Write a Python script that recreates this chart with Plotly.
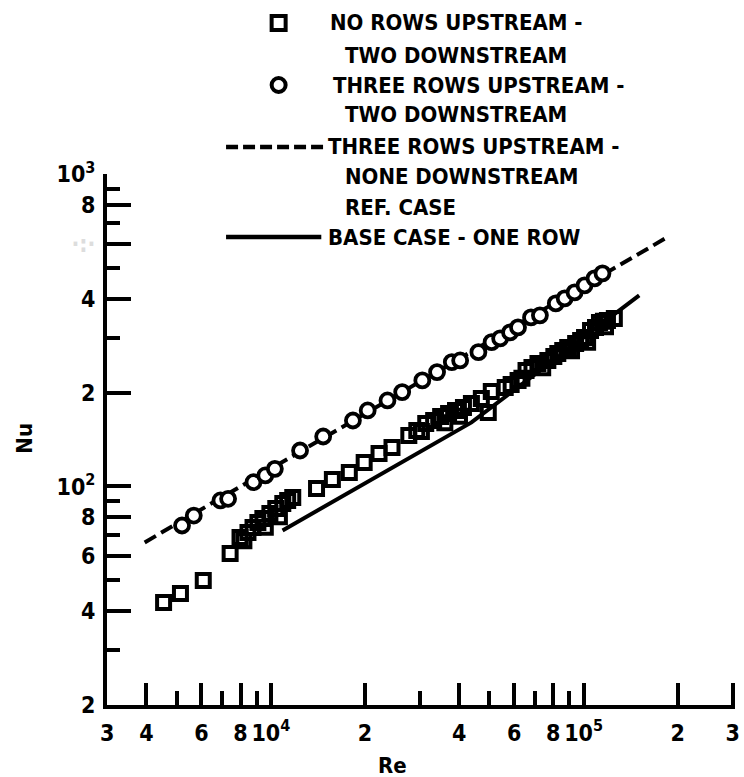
import math
import plotly.graph_objects as go

# ---------------- data ----------------
circ_re = [5200, 5670, 6900, 7300, 8800, 9600, 10300, 12400, 14700, 18300,
           20400, 23600, 26300, 30500, 34000, 37900, 40300, 46100, 50800, 54100,
           58200, 61700, 67900, 72500, 81500, 87000, 93600, 100700, 108400, 114900]
circ_nu = [75.0, 80.7, 90.2, 91.3, 103.2, 108.5, 113.9, 130.4, 144.6, 162.7,
           175.2, 188.6, 200.6, 218.7, 232.5, 250.3, 253.4, 269.4, 290.0, 298.1,
           311.6, 323.3, 348.1, 353.3, 385.9, 400.5, 418.6, 440.8, 464.2, 481.6]

sq_re = [4540, 5140, 6080, 7410, 7970, 8450, 8770, 9090, 9430, 9930,
         10370, 10920, 11320, 11750, 14000, 15730, 17820, 19880, 22180, 24400,
         27620, 29290, 31280, 33160, 34910, 37010, 38950, 41290, 43780, 47100,
         49570, 50680, 56150, 58660, 61730, 65450, 68380, 71450, 76870, 80330,
         82710, 85770, 88960, 94320, 97840, 100700, 105250, 109170, 112400, 115740,
         119200, 125400,
         8200, 9600, 10650, 30300, 36000, 40100, 63500, 74000, 91500, 103000, 117500]
sq_nu = [42.5, 45.4, 50.0, 61.0, 68.6, 71.2, 73.9, 76.7, 79.0, 81.9,
         85.0, 88.2, 90.2, 92.2, 98.5, 105.3, 110.9, 119.4, 127.6, 133.4,
         145.7, 151.2, 159.2, 162.7, 167.6, 171.4, 175.2, 179.1, 184.5, 191.5,
         172.6, 201.6, 207.6, 212.3, 218.7, 235.4, 240.6, 247.9, 253.4, 261.0,
         266.9, 272.9, 279.0, 287.2, 293.7, 300.3, 316.2, 323.3, 335.5, 338.0,
         340.4, 345.5,
         67.0, 74.0, 80.0, 150.0, 160.0, 168.0, 222.0, 240.0, 272.0, 290.0, 325.0]

ref_re = [3950, 184800]          # three rows upstream - none downstream (dashed)
ref_nu = [66.2, 628.0]
base_re = [10900, 43800, 150600]  # base case - one row (solid)
base_nu = [72.3, 160.4, 409.6]

x_major_vals = [3000, 4000, 6000, 8000, 10000, 20000, 40000, 60000, 80000, 100000, 200000, 300000]
x_major_text = ["3", "4", "6", "8", "10<sup>4</sup>", "2", "4", "6", "8", "10<sup>5</sup>", "2", "3"]
x_minor_vals = [5000, 7000, 9000, 30000, 50000, 70000, 90000]

y_major_vals = [20, 40, 60, 80, 100, 200, 400, 600, 800, 1000]
y_major_text = ["2", "4", "6", "8", "10<sup>2</sup>", "2", "4",
                "<span style='color:#dddddd'>·:·</span>", "8", "10<sup>3</sup>"]
y_minor_vals = [30, 50, 70, 90, 300, 500, 700, 900]

legend_lines = [
    ["NO ROWS UPSTREAM -", "TWO DOWNSTREAM"],
    ["THREE ROWS UPSTREAM -", "TWO DOWNSTREAM"],
    ["THREE ROWS UPSTREAM -", "NONE DOWNSTREAM", "REF. CASE"],
    ["BASE CASE - ONE ROW"],
]
x_title = "Re"
y_title = "Nu"

# ---------------- layout geometry ----------------
W, H = 744, 777
L, R, T, B = 107, 4, 174, 72
PW, PH = W - L - R, H - T - B
FONT = "DejaVu Sans Condensed, DejaVu Sans, sans-serif"
X0, X1 = math.log10(3000) - 0.001, math.log10(300000) + 0.007


def pxx(px):
    return (px - L) / PW


def pxy(py):
    return (H - B - py) / PH


fig = go.Figure()

fig.add_trace(go.Scatter(x=ref_re, y=ref_nu, mode="lines",
                         line=dict(color="black", width=4, dash="13px,6px"),
                         showlegend=False, hoverinfo="skip"))
fig.add_trace(go.Scatter(x=base_re, y=base_nu, mode="lines",
                         line=dict(color="black", width=4),
                         showlegend=False, hoverinfo="skip"))
fig.add_trace(go.Scatter(x=sq_re, y=sq_nu, mode="markers",
                         marker=dict(symbol="square-open", size=13, color="black",
                                     line=dict(color="black", width=4)),
                         showlegend=False))
fig.add_trace(go.Scatter(x=circ_re, y=circ_nu, mode="markers",
                         marker=dict(symbol="circle", size=14, color="white",
                                     line=dict(color="black", width=3.8)),
                         showlegend=False))

# ---------------- hand-built legend ----------------
shapes = []
annotations = []
shapes.append(dict(type="rect", xref="paper", yref="paper", xsizemode="pixel", ysizemode="pixel",
                   xanchor=pxx(280), yanchor=pxy(23), x0=-7, x1=7, y0=-7, y1=7,
                   line=dict(color="black", width=4), fillcolor="white"))
shapes.append(dict(type="circle", xref="paper", yref="paper", xsizemode="pixel", ysizemode="pixel",
                   xanchor=pxx(280), yanchor=pxy(85), x0=-7, x1=7, y0=-7, y1=7,
                   line=dict(color="black", width=4), fillcolor="white"))
shapes.append(dict(type="line", xref="paper", yref="paper",
                   x0=pxx(227), x1=pxx(325), y0=pxy(147), y1=pxy(147),
                   line=dict(color="black", width=4.5, dash="12px,5px")))
shapes.append(dict(type="line", xref="paper", yref="paper",
                   x0=pxx(227), x1=pxx(323), y0=pxy(237), y1=pxy(237),
                   line=dict(color="black", width=4.5)))

text_pos = [
    [(330, 23), (345, 55)],
    [(333, 85), (345, 115)],
    [(328, 147), (345, 177), (345, 207)],
    [(328, 237)],
]
for item, poss in zip(legend_lines, text_pos):
    for txt, (px, py) in zip(item, poss):
        annotations.append(dict(text=txt, xref="paper", yref="paper", x=pxx(px), y=pxy(py),
                                xanchor="left", yanchor="middle", showarrow=False,
                                font=dict(family=FONT, size=22, color="black", weight="bold")))

annotations.append(dict(text=x_title, xref="paper", yref="paper", x=pxx(395), y=pxy(765),
                        xanchor="center", yanchor="middle", showarrow=False,
                        font=dict(family=FONT, size=22, color="black", weight="bold")))
annotations.append(dict(text=y_title, xref="paper", yref="paper", x=pxx(23), y=pxy(438),
                        xanchor="center", yanchor="middle", showarrow=False, textangle=-90,
                        font=dict(family=FONT, size=22, color="black", weight="bold")))

axis_common = dict(type="log", showgrid=False, zeroline=False, showline=True,
                   linecolor="black", linewidth=4, ticks="inside", tickcolor="black",
                   tickwidth=3.5, tickmode="array", tickangle=0,
                   ticklabeloverflow="allow",
                   tickfont=dict(family=FONT, size=23, color="black", weight="bold"))

fig.update_layout(
    width=W, height=H,
    margin=dict(l=L, r=R, t=T, b=B),
    paper_bgcolor="white", plot_bgcolor="white",
    font=dict(family=FONT, color="black", weight="bold"),
    showlegend=False,
    xaxis=dict(**axis_common,
               range=[X0, X1],
               tickvals=x_major_vals, ticktext=x_major_text, ticklen=22,
               ticklabelstandoff=4,
               minor=dict(tickmode="array", tickvals=x_minor_vals, ticks="inside",
                          ticklen=14, tickwidth=3.5, tickcolor="black")),
    yaxis=dict(**axis_common,
               range=[math.log10(20) - 0.001, 3 + 0.001],
               tickvals=y_major_vals, ticktext=y_major_text, ticklen=24,
               ticklabelstandoff=3,
               minor=dict(tickmode="array", tickvals=y_minor_vals, ticks="inside",
                          ticklen=13, tickwidth=3.5, tickcolor="black")),
    shapes=shapes,
    annotations=annotations,
)

fig.write_html("out.html")
